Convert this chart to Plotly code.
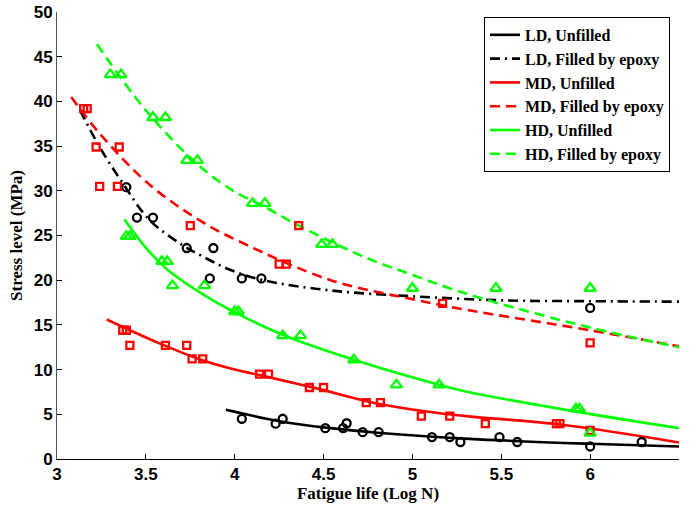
import plotly.graph_objects as go

# ---- measured fatigue data (log N, stress in MPa) ----
ld_unfilled_x = [4.04, 4.23, 4.27, 4.51, 4.61, 4.63, 4.72, 4.81, 5.11, 5.21, 5.27, 5.49, 5.59, 6.00, 6.29]
ld_unfilled_y = [4.5, 3.95, 4.5, 3.45, 3.45, 4.0, 3.0, 3.0, 2.45, 2.45, 1.9, 2.45, 1.9, 1.4, 1.9]

ld_filled_x = [3.39, 3.45, 3.54, 3.73, 3.88, 3.86, 4.04, 4.15, 6.00]
ld_filled_y = [30.4, 27.0, 27.0, 23.6, 23.6, 20.2, 20.2, 20.2, 16.9]

md_unfilled_x = [3.37, 3.39, 3.41, 3.61, 3.73, 3.76, 3.82, 4.14, 4.19, 4.42, 4.50, 4.74, 4.82,
                 5.05, 5.21, 5.41, 5.81, 5.83, 6.00]
md_unfilled_y = [14.4, 14.4, 12.7, 12.7, 12.7, 11.2, 11.2, 9.5, 9.5, 8.0, 8.0, 6.3, 6.3,
                 4.8, 4.8, 3.95, 3.95, 3.95, 3.2]

md_filled_x = [3.15, 3.17, 3.22, 3.35, 3.24, 3.34, 3.75, 4.36, 4.25, 4.29, 5.17, 6.00]
md_filled_y = [39.2, 39.2, 34.9, 34.9, 30.5, 30.5, 26.1, 26.1, 21.8, 21.8, 17.4, 13.0]

hd_unfilled_x = [3.39, 3.41, 3.59, 3.62, 3.65, 3.83, 4.00, 4.02, 4.27, 4.37, 4.67, 4.91, 5.15,
                 5.92, 5.94, 6.00]
hd_unfilled_y = [24.9, 24.9, 22.1, 22.1, 19.4, 19.4, 16.5, 16.5, 13.8, 13.8, 11.1, 8.3, 8.3,
                 5.6, 5.6, 2.9]

hd_filled_x = [3.30, 3.36, 3.54, 3.61, 3.73, 3.79, 4.10, 4.17, 4.49, 4.55, 5.00, 5.47, 6.00]
hd_filled_y = [43.0, 43.0, 38.2, 38.2, 33.4, 33.4, 28.6, 28.6, 24.0, 24.0, 19.1, 19.1, 19.1]

# ---- fitted S-N trend curves ----
ld_unfilled_fit_x = [3.95, 4.26, 4.54, 4.82, 5.32, 6.00, 6.50]
ld_unfilled_fit_y = [5.5, 4.2, 3.45, 2.9, 2.25, 1.7, 1.4]

ld_filled_fit_x = [3.13, 3.24, 3.37, 3.52, 3.70, 3.82, 3.97, 4.16, 4.54, 5.00, 5.50, 6.00, 6.50]
ld_filled_fit_y = [39.0, 34.9, 30.85, 26.75, 24.0, 22.65, 21.2, 20.0, 18.85, 18.2, 17.75, 17.65, 17.6]

md_unfilled_fit_x = [3.28, 3.58, 3.81, 4.00, 4.16, 4.46, 4.78, 5.10, 5.30, 5.83, 6.50]
md_unfilled_fit_y = [15.6, 12.9, 11.1, 10.0, 9.3, 7.9, 6.3, 5.25, 4.8, 3.85, 1.85]

md_filled_fit_x = [3.08, 3.24, 3.52, 3.81, 4.03, 4.54, 5.02, 5.30, 6.00, 6.50]
md_filled_fit_y = [40.5, 36.4, 30.7, 26.6, 24.3, 20.0, 17.8, 16.7, 14.4, 12.6]

hd_unfilled_fit_x = [3.38, 3.51, 3.62, 3.81, 4.00, 4.27, 4.67, 5.15, 5.30, 5.92, 6.50]
hd_unfilled_fit_y = [26.8, 23.4, 21.2, 18.55, 16.4, 13.9, 11.1, 8.3, 7.55, 5.3, 3.45]

hd_filled_fit_x = [3.225, 3.50, 3.80, 4.00, 4.16, 4.37, 4.74, 5.00, 5.30, 6.00, 6.50]
hd_filled_fit_y = [46.4, 39.0, 32.8, 29.9, 28.3, 26.0, 22.5, 20.6, 18.5, 14.7, 12.5]

x_ticks = [3, 3.5, 4, 4.5, 5, 5.5, 6, 6.5]
x_tick_text = ["3", "3.5", "4", "4.5", "5", "5.5", "6", "6.5"]
y_ticks = [0, 5, 10, 15, 20, 25, 30, 35, 40, 45, 50]

BLACK, RED, GREEN = "#000000", "#FF0000", "#00FF00"
DASH = "10px,6px"
DASHDOT = "10px,5px,2px,5px"

fig = go.Figure()

def add_points(x, y, color, symbol, size):
    # open symbols take their outline colour from marker.color
    fig.add_trace(go.Scatter(
        x=x, y=y, mode="markers", showlegend=False,
        marker=dict(symbol=symbol, size=size, color=color,
                    line=dict(color=color, width=2.3)),
    ))

def add_fit(x, y, color, dash, name):
    fig.add_trace(go.Scatter(
        x=x, y=y, mode="lines", name=name,
        line=dict(color=color, width=2.6, dash=dash, shape="spline", smoothing=1.0),
    ))

# trend curves (these carry the legend)
add_fit(ld_unfilled_fit_x, ld_unfilled_fit_y, BLACK, "solid", "LD, Unfilled")
add_fit(ld_filled_fit_x, ld_filled_fit_y, BLACK, DASHDOT, "LD, Filled by epoxy")
add_fit(md_unfilled_fit_x, md_unfilled_fit_y, RED, "solid", "MD, Unfilled")
add_fit(md_filled_fit_x, md_filled_fit_y, RED, DASH, "MD, Filled by epoxy")
add_fit(hd_unfilled_fit_x, hd_unfilled_fit_y, GREEN, "solid", "HD, Unfilled")
add_fit(hd_filled_fit_x, hd_filled_fit_y, GREEN, DASH, "HD, Filled by epoxy")

# measured points
add_points(ld_unfilled_x, ld_unfilled_y, BLACK, "circle-open", 8)
add_points(ld_filled_x, ld_filled_y, BLACK, "circle-open", 8)
add_points(md_unfilled_x, md_unfilled_y, RED, "square-open", 7)
add_points(md_filled_x, md_filled_y, RED, "square-open", 7)
add_points(hd_unfilled_x, hd_unfilled_y, GREEN, "triangle-up-open", 10)
add_points(hd_filled_x, hd_filled_y, GREEN, "triangle-up-open", 10)

tick_font = dict(family="Liberation Sans, Arial, sans-serif", size=17, color="#000000",
                 weight="bold")
title_font = dict(family="Liberation Serif, Times New Roman, serif", size=17, color="#000000")

fig.update_layout(
    width=690, height=508,
    margin=dict(l=57, r=11, t=12, b=49),
    paper_bgcolor="white", plot_bgcolor="white",
    showlegend=True,
    legend=dict(
        x=0.9855, y=0.989, xanchor="right", yanchor="top",
        bgcolor="white", bordercolor="#000000", borderwidth=1,
        font=dict(family="Liberation Serif, Times New Roman, serif", size=16, color="#000000",
                  weight="bold"),
        tracegroupgap=0, itemwidth=30,
    ),
    xaxis=dict(
        range=[3, 6.5], tickvals=x_ticks, ticktext=x_tick_text, automargin=False,
        showgrid=False, zeroline=False, showline=True, linecolor="#000000", linewidth=1,
        ticks="inside", ticklen=5, tickcolor="#000000", tickfont=tick_font,
        title=dict(text="<b>Fatigue life (Log N)</b>", font=title_font, standoff=2),
    ),
    yaxis=dict(
        range=[0, 50], tickvals=y_ticks, automargin=False,
        showgrid=False, zeroline=False, showline=True, linecolor="#555555", linewidth=1,
        ticks="inside", ticklen=5, tickcolor="#000000", tickfont=tick_font,
        title=dict(text="<b>Stress level (MPa)</b>", font=title_font, standoff=6),
    ),
)

fig.write_html("out.html")
